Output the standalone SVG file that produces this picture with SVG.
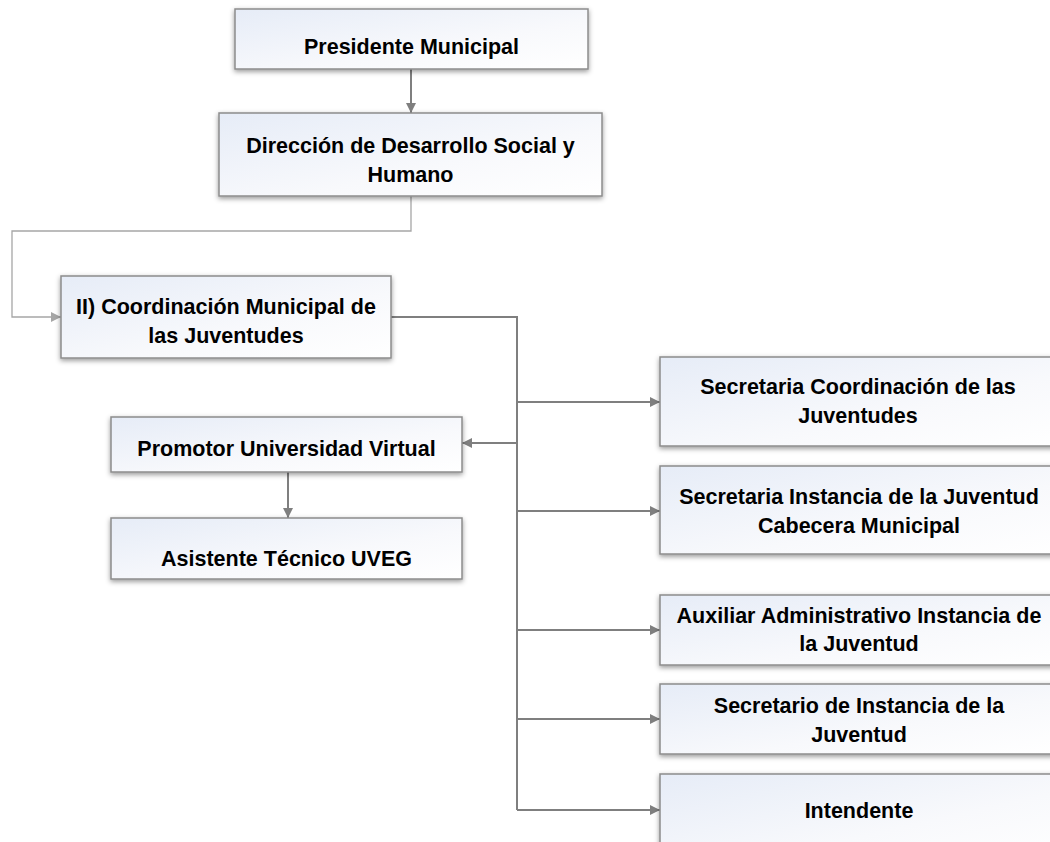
<svg xmlns="http://www.w3.org/2000/svg" width="1050" height="842" viewBox="0 0 1050 842">
<defs>
<linearGradient id="fillG" x1="0" y1="0" x2="1" y2="1">
<stop offset="0" stop-color="#e6ecf7"/>
<stop offset="0.6" stop-color="#f8f9fc"/>
<stop offset="1" stop-color="#ffffff"/>
</linearGradient>
<filter id="sh" x="-10%" y="-20%" width="120%" height="150%">
<feDropShadow dx="0" dy="2" stdDeviation="2.5" flood-color="#000" flood-opacity="0.4"/>
</filter>
<marker id="ar" viewBox="0 0 10 10" refX="10" refY="5" markerWidth="10" markerHeight="10" markerUnits="userSpaceOnUse" orient="auto">
<path d="M0,0 L10,5 L0,10 z" fill="#7f7f7f"/>
</marker>
<marker id="arL" viewBox="0 0 10 10" refX="10" refY="5" markerWidth="10" markerHeight="10" markerUnits="userSpaceOnUse" orient="auto">
<path d="M0,0 L10,5 L0,10 z" fill="#a6a6a6"/>
</marker>
</defs>
<style>
.box{fill:url(#fillG);stroke:#8c8c8c;stroke-width:1.5;filter:url(#sh)}
.t{font-family:"Liberation Sans",Arial,sans-serif;font-weight:bold;font-size:21.5px;fill:#000;text-anchor:middle}
.c{fill:none;stroke:#7f7f7f;stroke-width:2}
.cl{fill:none;stroke:#a6a6a6;stroke-width:1.3}
</style>
<rect width="1050" height="842" fill="#ffffff"/>
<g id="connectors">
<path class="c" d="M411,69 V113" marker-end="url(#ar)"/>
<path class="cl" d="M411,196 V231 H12 V317 H61" marker-end="url(#arL)"/>
<path class="c" d="M391,317 H517 V810"/>
<path class="c" d="M517,443 H462" marker-end="url(#ar)"/>
<path class="c" d="M288,472 V518" marker-end="url(#ar)"/>
<path class="c" d="M517,402 H660" marker-end="url(#ar)"/>
<path class="c" d="M517,511 H660" marker-end="url(#ar)"/>
<path class="c" d="M517,630 H660" marker-end="url(#ar)"/>
<path class="c" d="M517,719 H660" marker-end="url(#ar)"/>
<path class="c" d="M517,810 H660" marker-end="url(#ar)"/>
</g>
<g id="presidente">
<rect class="box" x="235" y="9" width="353" height="60"/>
<text class="t" x="411.5" y="54">Presidente Municipal</text>
</g>
<g id="direccion">
<rect class="box" x="219" y="113" width="383" height="83"/>
<text class="t" x="410.5" y="153">Dirección de Desarrollo Social y</text>
<text class="t" x="410.5" y="182">Humano</text>
</g>
<g id="coordinacion">
<rect class="box" x="61" y="276" width="330" height="82"/>
<text class="t" x="226" y="314">II) Coordinación Municipal de</text>
<text class="t" x="226" y="343">las Juventudes</text>
</g>
<g id="promotor">
<rect class="box" x="111" y="417" width="351" height="55"/>
<text class="t" x="286.5" y="456">Promotor Universidad Virtual</text>
</g>
<g id="asistente">
<rect class="box" x="111" y="518" width="351" height="61"/>
<text class="t" x="286.5" y="566">Asistente Técnico UVEG</text>
</g>
<g id="sec-coordinacion">
<rect class="box" x="660" y="357" width="400" height="89"/>
<text class="t" x="858" y="394">Secretaria Coordinación de las</text>
<text class="t" x="858" y="423">Juventudes</text>
</g>
<g id="sec-instancia">
<rect class="box" x="660" y="466" width="400" height="88"/>
<text class="t" x="859" y="504">Secretaria Instancia de la Juventud</text>
<text class="t" x="859" y="533">Cabecera Municipal</text>
</g>
<g id="auxiliar">
<rect class="box" x="660" y="595" width="400" height="70"/>
<text class="t" x="859" y="623">Auxiliar Administrativo Instancia de</text>
<text class="t" x="859" y="651">la Juventud</text>
</g>
<g id="secretario">
<rect class="box" x="660" y="684" width="400" height="70"/>
<text class="t" x="859" y="713">Secretario de Instancia de la</text>
<text class="t" x="859" y="742">Juventud</text>
</g>
<g id="intendente">
<rect class="box" x="660" y="774" width="400" height="90"/>
<text class="t" x="859" y="818">Intendente</text>
</g>
</svg>
